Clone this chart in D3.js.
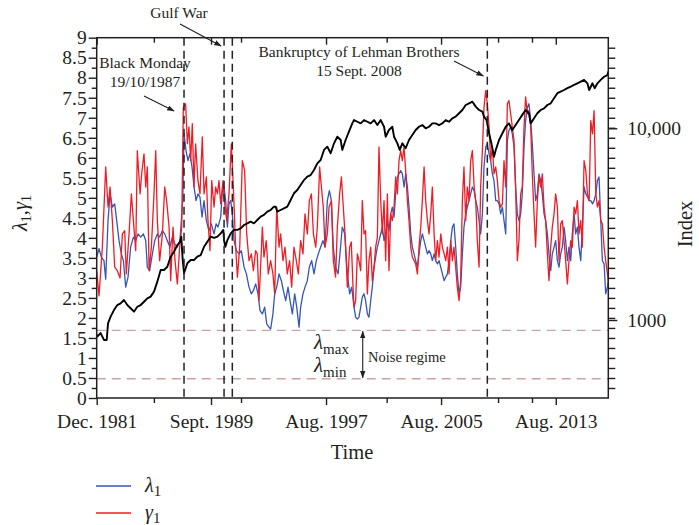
<!DOCTYPE html>
<html>
<head>
<meta charset="utf-8">
<script src="https://cdnjs.cloudflare.com/ajax/libs/d3/7.8.5/d3.min.js"></script>
<style>
  body { margin: 0; background: #fff; }
  svg text { font-family: "Liberation Serif", "DejaVu Serif", serif; fill: #231f20; }
</style>
</head>
<body>
<div id="chart"></div>
<script>
// largest eigenvalue lambda1 (blue), [year, value]
var lambda1 = [
  [1981.78,3.52],[1981.94,3.73],[1982.10,3.52],[1982.28,3.43],[1982.40,2.97],[1982.56,4.43],[1982.70,5.1],[1982.86,4.77],
  [1983.02,4.85],[1983.16,4.43],[1983.32,3.93],[1983.48,3.6],[1983.62,3.43],[1983.78,2.77],[1983.94,3.02],[1984.12,3.77],
  [1984.31,4.02],[1984.47,3.93],[1984.63,4.1],[1984.81,4.02],[1985.00,4.1],[1985.16,3.93],[1985.27,3.27],[1985.43,3.18],
  [1985.62,3.6],[1985.78,3.93],[1985.96,4.1],[1986.12,4.02],[1986.31,4.18],[1986.47,4.1],[1986.65,3.93],[1986.83,3.77],
  [1986.99,4.02],[1987.16,3.85],[1987.34,3.77],[1987.52,3.93],[1987.71,4.93],[1987.80,6.6],[1987.94,6.18],[1988.07,5.93],
  [1988.21,6.1],[1988.35,5.77],[1988.49,5.27],[1988.63,4.93],[1988.76,5.1],[1988.90,5.02],[1989.04,4.52],[1989.18,4.93],
  [1989.34,4.43],[1989.52,4.18],[1989.68,4.35],[1989.87,4.1],[1990.01,4.35],[1990.14,4.27],[1990.33,4.52],[1990.46,5.27],
  [1990.56,5.27],[1990.67,4.93],[1990.79,4.27],[1990.90,4.85],[1991.02,4.93],[1991.13,4.6],[1991.25,3.93],[1991.41,3.68],
  [1991.59,3.6],[1991.75,3.68],[1991.94,3.27],[1992.10,3.1],[1992.28,2.77],[1992.44,2.6],[1992.58,2.68],[1992.74,2.85],
  [1992.90,2.6],[1993.04,2.18],[1993.20,2.1],[1993.36,2.27],[1993.50,1.85],[1993.66,1.77],[1993.77,1.72],[1993.93,2.1],
  [1994.05,2.6],[1994.19,2.77],[1994.35,3.1],[1994.51,2.93],[1994.65,2.68],[1994.81,2.43],[1994.97,2.77],[1995.11,2.43],
  [1995.27,2.1],[1995.43,2.6],[1995.57,2.27],[1995.73,1.77],[1995.84,2.27],[1996.00,2.6],[1996.14,2.77],[1996.30,2.93],
  [1996.44,3.27],[1996.60,3.43],[1996.76,3.1],[1996.92,3.43],[1997.06,3.6],[1997.22,3.77],[1997.38,3.93],[1997.52,3.77],
  [1997.68,4.93],[1997.82,5.18],[1997.96,4.93],[1998.09,3.77],[1998.25,3.27],[1998.42,3.1],[1998.55,3.6],[1998.71,4.27],
  [1998.88,4.1],[1999.06,3.1],[1999.22,2.6],[1999.36,2.77],
  [1999.52,2.27],[1999.63,2.02],[1999.75,1.97],[1999.86,2.02],[1999.98,2.27],[2000.09,2.52],[2000.21,2.6],[2000.32,2.43],
  [2000.44,2.1],[2000.55,2.02],[2000.67,2.43],[2000.78,2.77],[2000.90,3.27],[2001.01,3.52],[2001.13,3.77],[2001.24,3.93],
  [2001.36,4.1],[2001.47,4.27],[2001.59,3.93],[2001.70,4.1],[2001.82,4.43],[2001.93,4.18],[2002.05,4.6],[2002.16,4.77],
  [2002.28,4.52],[2002.39,5.1],[2002.51,5.52],[2002.62,5.6],[2002.74,5.68],[2002.85,5.6],[2002.97,5.27],[2003.08,5.6],
  [2003.20,5.27],[2003.31,4.77],[2003.43,4.1],[2003.54,3.77],[2003.66,3.6],[2003.77,3.43],[2003.89,3.27],[2004.00,3.6],
  [2004.12,3.93],[2004.23,4.1],[2004.35,3.93],[2004.46,3.77],[2004.58,3.6],[2004.69,3.68],[2004.81,3.6],[2004.92,3.43],
  [2005.04,3.6],[2005.15,3.43],[2005.27,3.35],[2005.38,3.43],[2005.50,3.27],[2005.61,3.1],[2005.73,2.93],[2005.84,3.02],
  [2005.96,3.1],[2006.07,3.43],[2006.19,3.93],[2006.30,4.27],[2006.41,4.35],[2006.53,3.77],[2006.64,3.1],[2006.76,2.6],
  [2006.87,2.77],[2006.99,3.6],[2007.10,4.27],[2007.22,4.6],[2007.33,4.77],[2007.45,4.93],[2007.56,5.1],[2007.68,5.27],
  [2007.80,5.18],[2007.91,4.93],[2008.02,4.77],[2008.14,4.43],[2008.25,4.1],[2008.37,4.6],
  [2008.48,5.77],[2008.60,6.27],[2008.71,6.35],[2008.83,6.1],[2008.94,5.93],[2009.06,5.6],[2009.17,5.43],[2009.29,4.93],
  [2009.40,4.93],[2009.52,4.85],[2009.63,4.6],[2009.75,4.77],[2009.86,4.43],[2009.98,4.1],[2010.09,6.43],[2010.20,6.68],
  [2010.32,6.77],[2010.43,6.6],[2010.55,6.27],[2010.66,5.27],[2010.78,4.6],[2010.89,4.43],[2011.01,4.6],[2011.12,5.1],
  [2011.24,6.27],[2011.35,6.93],[2011.47,7.26],[2011.58,7.35],[2011.70,6.93],[2011.81,6.35],[2011.93,5.6],[2012.04,4.93],
  [2012.16,5.1],[2012.27,5.6],[2012.39,5.43],[2012.50,5.1],[2012.62,4.6],[2012.73,4.43],[2012.85,4.1],[2012.96,3.6],
  [2013.08,3.18],[2013.19,3.6],[2013.31,3.77],[2013.42,3.93],[2013.54,3.43],[2013.65,3.27],[2013.77,3.6],[2013.88,3.77],
  [2014.00,4.27],[2014.11,3.93],[2014.23,3.43],[2014.34,3.77],[2014.46,3.43],[2014.57,4.1],[2014.69,4.6],[2014.80,4.1],
  [2014.92,4.27],[2015.03,3.77],[2015.15,3.43],[2015.26,4.27],[2015.38,5.27],[2015.50,5.1],[2015.61,5.02],[2015.73,4.93],
  [2015.84,4.93],[2015.96,4.85],[2016.07,4.93],[2016.19,5.1],[2016.30,5.43],[2016.41,5.52],[2016.53,4.43],[2016.64,3.43],
  [2016.76,3.35],[2016.87,2.6],[2016.99,2.77],[2017.05,2.93]
];

// gamma1 (red), [year, value]
var gamma1 = [
  [1981.78,3.18],[1981.94,2.55],[1982.17,3.77],[1982.40,5.77],[1982.56,4.77],[1982.70,5.27],[1982.86,4.43],[1983.02,3.27],
  [1983.20,3.18],[1983.39,3.0],[1983.55,4.1],[1983.71,4.18],[1983.82,3.1],[1984.01,4.1],[1984.17,5.1],[1984.31,4.43],
  [1984.47,3.68],[1984.58,6.18],[1984.77,5.1],[1984.88,5.6],[1985.04,6.1],[1985.16,5.27],[1985.27,5.77],[1985.39,3.18],
  [1985.55,3.77],[1985.73,5.1],[1985.85,6.18],[1985.96,4.43],[1986.12,3.43],[1986.31,4.1],[1986.47,5.27],[1986.60,4.93],
  [1986.77,4.27],[1986.88,2.93],[1987.04,4.27],[1987.18,3.43],[1987.34,2.85],[1987.50,3.77],[1987.64,4.27],[1987.75,7.26],
  [1987.91,7.35],[1988.03,6.35],[1988.14,6.77],[1988.26,5.93],[1988.37,6.85],[1988.49,5.27],[1988.60,6.35],[1988.76,5.43],
  [1988.90,5.1],[1989.06,6.52],[1989.18,5.1],[1989.34,5.52],[1989.45,4.43],[1989.59,3.68],[1989.71,5.43],[1989.87,4.77],
  [1989.98,5.27],[1990.10,5.1],[1990.21,5.43],[1990.33,4.85],[1990.49,5.43],
  [1990.56,5.0],[1990.74,4.43],[1990.90,5.1],[1991.06,6.35],[1991.20,5.27],[1991.36,3.77],[1991.48,3.02],[1991.64,3.77],
  [1991.82,5.93],[1991.98,5.68],[1992.12,4.1],[1992.28,3.43],[1992.44,3.6],[1992.58,3.18],[1992.74,3.68],[1992.85,3.6],
  [1992.97,2.43],[1993.08,3.27],[1993.20,4.27],[1993.31,3.52],[1993.47,3.93],[1993.61,3.1],[1993.77,3.43],[1993.93,3.1],
  [1994.05,2.6],[1994.19,4.77],[1994.35,3.77],[1994.46,4.1],[1994.62,3.43],[1994.76,3.77],[1994.92,3.1],[1995.08,3.43],
  [1995.22,2.77],[1995.38,3.77],[1995.54,3.43],[1995.68,3.1],[1995.84,3.93],[1996.00,3.6],[1996.14,4.6],[1996.30,4.1],
  [1996.44,4.93],[1996.58,5.1],[1996.72,4.1],[1996.88,3.77],[1996.99,4.27],[1997.15,5.77],[1997.27,5.27],[1997.40,4.77],
  [1997.52,3.77],[1997.68,4.1],[1997.80,4.77],[1997.96,4.93],[1998.09,3.43],[1998.25,3.02],[1998.37,4.27],[1998.53,5.1],
  [1998.65,5.52],[1998.78,4.77],[1998.90,4.1],[1999.06,2.77],[1999.22,3.77],[1999.33,3.9],[1999.47,2.6],
  [1999.52,2.27],[1999.63,2.43],[1999.75,3.6],[1999.86,3.43],[1999.98,3.18],[2000.09,4.93],[2000.21,4.1],[2000.32,4.18],
  [2000.44,2.6],[2000.55,3.43],[2000.67,3.77],[2000.78,2.93],[2000.90,3.27],[2001.01,3.77],[2001.13,4.02],[2001.24,6.27],
  [2001.36,4.93],[2001.47,4.1],[2001.59,4.93],[2001.70,3.43],[2001.82,5.1],[2001.93,3.18],[2002.05,4.6],[2002.16,4.43],
  [2002.28,4.77],[2002.39,5.52],[2002.51,5.1],[2002.62,5.93],[2002.74,6.18],[2002.85,5.93],[2002.97,6.27],[2003.08,5.68],
  [2003.20,4.93],[2003.31,4.43],[2003.43,3.77],[2003.54,3.52],[2003.66,3.43],[2003.77,3.35],[2003.89,3.1],[2004.00,3.77],
  [2004.12,4.27],[2004.23,4.93],[2004.35,5.77],[2004.46,4.93],[2004.58,4.43],[2004.69,4.1],[2004.81,4.6],[2004.92,5.27],
  [2005.04,4.1],[2005.15,3.43],[2005.27,3.93],[2005.38,3.52],[2005.50,4.1],[2005.61,3.77],[2005.73,3.6],[2005.84,3.43],
  [2005.96,3.77],[2006.07,3.1],[2006.19,3.93],[2006.30,3.43],[2006.41,3.77],[2006.53,3.27],[2006.64,2.77],[2006.76,2.43],
  [2006.87,2.93],[2006.99,4.93],[2007.10,5.77],[2007.22,4.43],[2007.33,5.27],[2007.45,4.93],[2007.56,5.93],[2007.68,6.18],
  [2007.80,5.27],[2007.91,4.93],[2008.02,3.93],[2008.14,3.27],[2008.25,5.27],[2008.37,6.18],
  [2008.48,7.26],[2008.60,7.68],[2008.71,7.35],[2008.83,6.77],[2008.94,5.93],[2009.06,6.27],[2009.17,5.6],[2009.29,5.77],
  [2009.40,5.43],[2009.52,4.93],[2009.63,4.77],[2009.75,4.85],[2009.86,5.93],[2009.98,5.27],[2010.09,7.35],[2010.20,7.43],
  [2010.32,7.1],[2010.43,6.77],[2010.55,6.43],[2010.66,5.27],[2010.78,3.43],[2010.89,3.93],[2011.01,5.1],[2011.12,5.27],
  [2011.24,6.77],[2011.35,7.52],[2011.47,7.1],[2011.58,7.18],[2011.70,6.77],[2011.81,5.6],[2011.93,4.6],[2012.04,3.77],
  [2012.16,4.93],[2012.27,5.52],[2012.39,5.27],[2012.50,5.6],[2012.62,4.77],[2012.73,4.43],[2012.85,3.6],[2012.96,2.93],
  [2013.08,3.77],[2013.19,4.27],[2013.31,4.6],[2013.42,5.1],[2013.54,4.77],[2013.65,3.43],[2013.77,4.35],[2013.88,4.43],
  [2014.00,3.93],[2014.11,3.43],[2014.23,2.85],[2014.34,3.43],[2014.46,3.93],[2014.57,3.77],[2014.69,4.77],[2014.80,4.6],
  [2014.92,4.93],[2015.03,4.1],[2015.15,4.43],[2015.26,3.77],[2015.38,5.93],[2015.50,5.68],[2015.61,5.1],[2015.73,4.93],
  [2015.84,6.93],[2015.96,6.6],[2016.07,7.18],[2016.19,5.1],[2016.30,4.77],[2016.41,4.93],[2016.53,4.43],[2016.64,4.35],
  [2016.76,3.77],[2016.87,3.43],[2016.99,3.1],[2017.05,2.93]
];

// market index (right log axis), [year, level]
var marketIndex = [
  [1981.78,840],[1981.82,820],[1982.05,855],[1982.28,787],[1982.47,787],[1982.56,961],[1982.74,1041],[1982.97,1127],
  [1983.20,1197],[1983.43,1222],[1983.66,1271],[1983.89,1197],[1984.12,1151],[1984.35,1105],[1984.58,1173],[1984.81,1197],
  [1985.04,1245],[1985.27,1297],[1985.50,1324],[1985.73,1406],[1985.96,1585],[1986.19,1824],[1986.42,1824],[1986.65,1897],
  [1986.88,2140],[1987.11,2271],[1987.34,2461],[1987.52,2561],[1987.61,2721],[1987.71,2055],[1987.80,1753],[1988.03,1977],
  [1988.26,2055],[1988.49,2055],[1988.72,2140],[1988.95,2182],[1989.18,2411],[1989.41,2561],[1989.64,2721],[1989.87,2680],
  [1990.10,2721],[1990.33,2832],[1990.51,2951],
  [1990.56,2600],[1990.65,2411],[1990.79,2612],[1991.02,2832],[1991.25,2951],[1991.48,2951],[1991.71,3007],[1991.94,3131],
  [1992.16,3195],[1992.39,3260],[1992.62,3195],[1992.85,3325],[1993.08,3462],[1993.31,3533],[1993.54,3674],[1993.77,3749],
  [1994.00,3900],[1994.12,3900],[1994.23,3674],[1994.46,3749],[1994.69,3824],[1994.92,3900],[1995.15,4226],[1995.38,4581],
  [1995.61,4767],[1995.84,5058],[1996.07,5370],[1996.30,5593],[1996.53,5705],[1996.76,6063],[1996.99,6563],[1997.22,6835],
  [1997.45,7712],[1997.68,8020],[1997.91,7413],[1998.14,8350],[1998.37,9040],[1998.60,8690],[1998.71,7712],[1998.94,8690],
  [1999.17,9600],[1999.40,10610],
  [1999.52,11040],[1999.75,10820],[1999.98,10610],[2000.21,11040],[2000.44,10820],[2000.67,10610],[2000.90,11040],
  [2001.13,10400],[2001.36,11040],[2001.59,10190],[2001.70,9040],[2001.93,9795],[2002.16,10190],[2002.28,9040],
  [2002.51,8350],[2002.67,7712],[2002.85,8350],[2003.08,7870],[2003.31,8690],[2003.54,9230],[2003.77,9795],[2004.00,10190],
  [2004.23,10400],[2004.46,10000],[2004.69,10190],[2004.92,10610],[2005.15,10610],[2005.38,10400],[2005.61,10610],
  [2005.84,11040],[2006.07,10820],[2006.30,11270],[2006.53,11510],[2006.76,11980],[2006.99,12460],[2007.22,13230],
  [2007.45,13500],[2007.68,13770],[2007.91,12970],[2008.14,12460],[2008.37,12220],
  [2008.48,11510],[2008.66,11040],[2008.83,9420],[2008.99,8350],[2009.17,7110],[2009.29,7712],[2009.52,8690],[2009.75,9420],
  [2009.98,10190],[2010.20,10610],[2010.43,9795],[2010.66,10400],[2010.89,11040],[2011.12,11750],[2011.35,12460],
  [2011.58,11980],[2011.70,10610],[2011.93,11270],[2012.16,11980],[2012.39,12460],[2012.62,12700],[2012.85,13230],
  [2013.08,13500],[2013.31,14350],[2013.54,15240],[2013.77,15540],[2014.00,15840],[2014.23,16190],[2014.46,16500],
  [2014.69,16830],[2014.92,17170],[2015.15,17530],[2015.38,17880],[2015.61,17170],[2015.73,15840],[2015.96,17170],
  [2016.11,16190],[2016.30,17170],[2016.53,17880],[2016.76,18580],[2016.99,18960],[2017.05,19770]
];

var xTickValues = [1981.78, 1989.66, 1997.59, 2005.52, 2013.43];
var xTickLabels = ['Dec. 1981', 'Sept. 1989', 'Aug. 1997', 'Aug. 2005', 'Aug. 2013'];
var xMinorTicks = [1985.72, 1991.73, 2001.77, 2009.45, 2011.79];
var indexTicks = [1000, 10000];
var noiseBounds = [0.48, 1.69];   // lambda_min, lambda_max
var eventDates = [1987.80, 1990.56, 1991.13, 2008.71];

var W = 699, H = 525,
    L = 96.7, R = 608.3, T = 37.7, B = 398;

var svg = d3.select('#chart').append('svg')
  .attr('width', W).attr('height', H);

var x = d3.scaleLinear().domain([1981.78, 2017.05]).range([L, R]),
    y = d3.scaleLinear().domain([0, 9]).range([B, T]),
    yIdx = d3.scaleLog().domain([391.9, 29690]).range([B, T]);

var defs = svg.append('defs');
defs.append('clipPath').attr('id', 'plotclip')
  .append('rect').attr('x', L).attr('y', T).attr('width', R - L).attr('height', B - T);
defs.append('marker').attr('id', 'arrowhead')
  .attr('viewBox', '0 0 10 10').attr('refX', 9).attr('refY', 5)
  .attr('markerWidth', 7).attr('markerHeight', 7).attr('orient', 'auto-start-reverse')
  .append('path').attr('d', 'M0,1.5L10,5L0,8.5z').attr('fill', '#231f20');

var plot = svg.append('g').attr('clip-path', 'url(#plotclip)');

// noise regime bounds
plot.selectAll('line.noise').data(noiseBounds).enter().append('line')
  .attr('class', 'noise')
  .attr('x1', L).attr('x2', R)
  .attr('y1', function(d) { return y(d); }).attr('y2', function(d) { return y(d); })
  .attr('stroke', '#c9a3a5').attr('stroke-width', 1.4).attr('stroke-dasharray', '9,6');

var line = d3.line().x(function(d) { return x(d[0]); }).y(function(d) { return y(d[1]); });
var idxLine = d3.line().x(function(d) { return x(d[0]); }).y(function(d) { return yIdx(d[1]); });

plot.append('path').datum(lambda1)
  .attr('d', line).attr('fill', 'none')
  .attr('stroke', '#3556b3').attr('stroke-width', 1.3).attr('stroke-linejoin', 'round');

plot.append('path').datum(gamma1)
  .attr('d', line).attr('fill', 'none')
  .attr('stroke', '#ee1c25').attr('stroke-width', 1.3).attr('stroke-linejoin', 'round');

plot.append('path').datum(marketIndex)
  .attr('d', idxLine).attr('fill', 'none')
  .attr('stroke', '#000').attr('stroke-width', 1.9).attr('stroke-linejoin', 'round');

// event markers
svg.selectAll('line.event').data(eventDates).enter().append('line')
  .attr('class', 'event')
  .attr('x1', function(d) { return x(d); }).attr('x2', function(d) { return x(d); })
  .attr('y1', T).attr('y2', B)
  .attr('stroke', '#222').attr('stroke-width', 1.5).attr('stroke-dasharray', '8,5');

// frame
svg.append('rect').attr('x', L).attr('y', T).attr('width', R - L).attr('height', B - T)
  .attr('fill', 'none').attr('stroke', '#231f20').attr('stroke-width', 1.5);

var fontTick = '19.5px';

// left axis
var leftMajor = d3.range(0, 9.01, 0.5);
var leftMinor = d3.range(0.25, 9, 0.5);
svg.append('g').attr('transform', 'translate(' + L + ',0)')
  .call(d3.axisLeft(y).tickValues(leftMajor).tickSize(8).tickPadding(2).tickFormat(d3.format('~g')));
svg.append('g').attr('transform', 'translate(' + L + ',0)')
  .call(d3.axisLeft(y).tickValues(leftMinor).tickSize(5).tickFormat(''));

// right axis: minor grid ticks and log labels
svg.append('g').attr('transform', 'translate(' + R + ',0)')
  .call(d3.axisRight(y).tickValues(d3.range(0.25, 9, 0.25)).tickSize(7).tickFormat(''));
svg.append('g').attr('transform', 'translate(' + R + ',0)')
  .call(d3.axisRight(yIdx).tickValues(indexTicks).tickSize(9).tickPadding(10)
    .tickFormat(function(d) { return d === 10000 ? '10,000' : d3.format('d')(d); }));

// bottom axis
svg.append('g').attr('transform', 'translate(0,' + B + ')')
  .call(d3.axisBottom(x).tickValues(xTickValues).tickSize(7).tickPadding(9)
    .tickFormat(function(d, i) { return xTickLabels[i]; }));
svg.append('g').attr('transform', 'translate(0,' + B + ')')
  .call(d3.axisBottom(x).tickValues(xMinorTicks).tickSize(5).tickFormat(''));

// top axis ticks (inward)
svg.append('g').attr('transform', 'translate(0,' + T + ')')
  .call(d3.axisBottom(x).tickValues(xTickValues).tickSize(7).tickFormat(''));
svg.append('g').attr('transform', 'translate(0,' + T + ')')
  .call(d3.axisBottom(x).tickValues(xMinorTicks).tickSize(5).tickFormat(''));

svg.selectAll('.domain').remove();
svg.selectAll('.tick line').attr('stroke', '#231f20').attr('stroke-width', 1.4);
svg.selectAll('.tick text')
  .style('font-family', '"Liberation Serif", "DejaVu Serif", serif')
  .style('font-size', fontTick).attr('fill', '#231f20');

// axis titles
svg.append('text').attr('x', 352).attr('y', 459).attr('text-anchor', 'middle')
  .style('font-size', '20.5px').text('Time');

svg.append('text').attr('transform', 'translate(692,224) rotate(-90)').attr('text-anchor', 'middle')
  .style('font-size', '20.5px').text('Index');

var yt = svg.append('text').attr('transform', 'translate(27,213) rotate(-90)').attr('text-anchor', 'middle')
  .style('font-size', '20.5px');
yt.append('tspan').style('font-style', 'italic').text('λ');
yt.append('tspan').attr('dy', 4).style('font-size', '14px').text('1');
yt.append('tspan').attr('dy', -4).text(',');
yt.append('tspan').style('font-style', 'italic').text('γ');
yt.append('tspan').attr('dy', 4).style('font-size', '14px').text('1');

// annotations
var ann = svg.append('g').style('font-size', '15.5px');
ann.append('text').attr('x', 179).attr('y', 18).attr('text-anchor', 'middle').text('Gulf War');
ann.append('text').attr('x', 145).attr('y', 68).attr('text-anchor', 'middle').text('Black Monday');
ann.append('text').attr('x', 145).attr('y', 87).attr('text-anchor', 'middle').text('19/10/1987');
ann.append('text').attr('x', 359).attr('y', 57).attr('text-anchor', 'middle').text('Bankruptcy of Lehman Brothers');
ann.append('text').attr('x', 359).attr('y', 76).attr('text-anchor', 'middle').text('15 Sept. 2008');

var arrows = [
  [180, 24, x(eventDates[1]) - 3, 46],
  [144, 96, x(eventDates[0]) - 10, 111],
  [454, 61, x(eventDates[3]) - 4, 76]
];
svg.selectAll('line.arrow').data(arrows).enter().append('line')
  .attr('class', 'arrow')
  .attr('x1', function(d) { return d[0]; }).attr('y1', function(d) { return d[1]; })
  .attr('x2', function(d) { return d[2]; }).attr('y2', function(d) { return d[3]; })
  .attr('stroke', '#231f20').attr('stroke-width', 1.1).attr('marker-end', 'url(#arrowhead)');

// noise regime double arrow
svg.append('line')
  .attr('x1', x(2000.12)).attr('x2', x(2000.12))
  .attr('y1', y(noiseBounds[1]) + 1).attr('y2', y(noiseBounds[0]) - 1)
  .attr('stroke', '#231f20').attr('stroke-width', 1.1)
  .attr('marker-start', 'url(#arrowhead)').attr('marker-end', 'url(#arrowhead)');

svg.append('text').attr('x', 368).attr('y', 362).style('font-size', '14.5px').text('Noise regime');

var lmax = svg.append('text').attr('x', 314).attr('y', 349).style('font-size', '21px');
lmax.append('tspan').style('font-style', 'italic').text('λ');
lmax.append('tspan').attr('dy', 5).style('font-size', '15px').text('max');
var lmin = svg.append('text').attr('x', 314).attr('y', 372).style('font-size', '21px');
lmin.append('tspan').style('font-style', 'italic').text('λ');
lmin.append('tspan').attr('dy', 5).style('font-size', '15px').text('min');

// legend
var legend = [
  { name: 'λ', color: '#3556b3', y: 486 },
  { name: 'γ', color: '#ee1c25', y: 513 }
];
var lg = svg.selectAll('g.legend').data(legend).enter().append('g').attr('class', 'legend');
lg.append('line')
  .attr('x1', 96).attr('x2', 131)
  .attr('y1', function(d) { return d.y; }).attr('y2', function(d) { return d.y; })
  .attr('stroke', function(d) { return d.color; }).attr('stroke-width', 1.6);
var lt = lg.append('text').attr('x', 145).attr('y', function(d) { return d.y + 6; }).style('font-size', '20px');
lt.append('tspan').style('font-style', 'italic').text(function(d) { return d.name; });
lt.append('tspan').attr('dy', 4).style('font-size', '15px').text('1');
</script>
</body>
</html>
